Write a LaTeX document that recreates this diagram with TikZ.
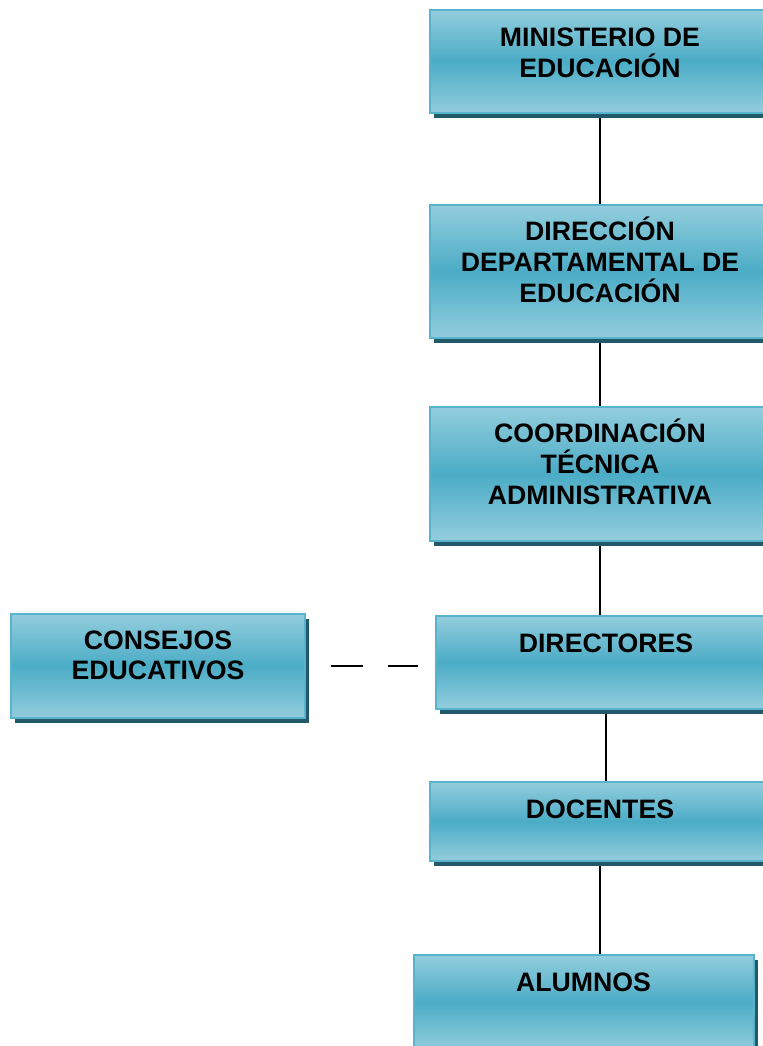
\documentclass[tikz,border=0pt]{standalone}
\usepackage{fontspec}
\setmainfont{Liberation Sans}
\usetikzlibrary{shadows,backgrounds,calc}
\definecolor{boxlight}{HTML}{93CDDD}
\definecolor{boxmid}{HTML}{4BACC6}
\definecolor{boxedge}{HTML}{58B4CC}
\definecolor{boxshadow}{HTML}{215968}
\begin{document}
\begin{tikzpicture}
  [x=0.75pt,y=-0.75pt,
   boxtext/.style={anchor=base,inner sep=0pt,align=center,
     font=\fontsize{20}{23}\selectfont\bfseries},
   orgbox/.style 2 args={rectangle,draw=boxedge,line width=1.5pt,
     top color=boxlight,bottom color=boxlight,middle color=boxmid,
     minimum width=255pt,inner sep=0pt,
     drop shadow={shadow xshift=3pt,shadow yshift=-3.5pt,fill=boxshadow,opacity=1},
     label={[boxtext,yshift=#1]north:#2}}]
  \clip (0,0) rectangle (763,1046);

  \node[orgbox={-51pt}{MINISTERIO DE\\EDUCACIÓN},minimum height=77.25pt] (min) at (600,61.5) {};
  \node[orgbox={-73.5pt}{DIRECCIÓN\\DEPARTAMENTAL DE\\EDUCACIÓN},minimum height=99.75pt] (dir) at (600,271.5) {};
  \node[orgbox={-73.5pt}{COORDINACIÓN\\TÉCNICA\\ADMINISTRATIVA},minimum height=100.5pt] (coo) at (600,474) {};
  \node[orgbox={-28pt}{DIRECTORES},minimum height=69.75pt] (dtr) at (606,662.5) {};
  \node[orgbox={-28pt}{DOCENTES},minimum height=59.25pt] (doc) at (600,821.5) {};
  \node[orgbox={-28pt}{ALUMNOS},minimum height=71.25pt] (alu) at (583.5,1002.5) {};
  \node[orgbox={-50pt}{CONSEJOS\\EDUCATIVOS},minimum width=220.5pt,minimum height=78pt] (con) at (158,666) {};

  \begin{scope}[on background layer]
    \foreach \from/\to in {min/dir,dir/coo,coo/dtr,dtr/doc,doc/alu}
      \draw[line width=1.1pt] (\from) -- (\from |- \to);
  \end{scope}

  \draw[line width=1.1pt,dash pattern=on 24pt off 18.75pt]
    ($(con.east)+(25,0)$) -- ($(dtr.west |- con.east)+(-17,0)$);

\end{tikzpicture}
\end{document}
